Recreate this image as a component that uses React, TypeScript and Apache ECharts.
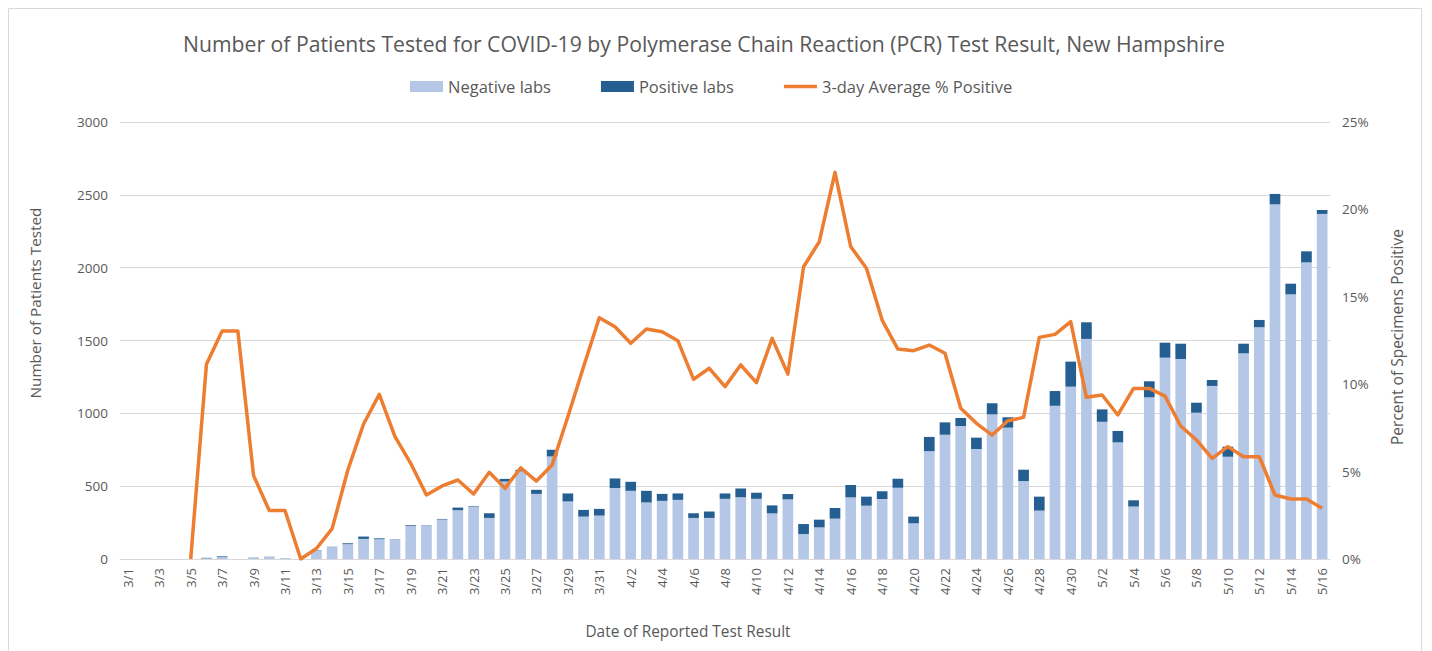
import React, { useEffect, useRef } from "react";
import * as echarts from "echarts";

const dates = [
  "3/1","3/2","3/3","3/4","3/5","3/6","3/7","3/8","3/9","3/10","3/11","3/12","3/13","3/14","3/15","3/16",
  "3/17","3/18","3/19","3/20","3/21","3/22","3/23","3/24","3/25","3/26","3/27","3/28","3/29","3/30","3/31",
  "4/1","4/2","4/3","4/4","4/5","4/6","4/7","4/8","4/9","4/10","4/11","4/12","4/13","4/14","4/15","4/16",
  "4/17","4/18","4/19","4/20","4/21","4/22","4/23","4/24","4/25","4/26","4/27","4/28","4/29","4/30",
  "5/1","5/2","5/3","5/4","5/5","5/6","5/7","5/8","5/9","5/10","5/11","5/12","5/13","5/14","5/15","5/16",
];

const negativeLabs = [
  0, 0, 0, 0, 0, 5, 13, 0, 10, 15, 7, 0, 60, 84, 102, 138,
  136, 133, 227, 230, 271, 335, 358, 282, 532, 602, 447, 704, 395, 291, 298,
  487, 468, 388, 399, 406, 282, 282, 413, 424, 413, 313, 409, 171, 217, 277, 423,
  366, 412, 489, 245, 740, 853, 913, 755, 993, 902, 535, 332, 1052, 1183,
  1511, 942, 801, 360, 1110, 1382, 1373, 1004, 1188, 702, 1412, 1591, 2435, 1817, 2036, 2369,
];

const positiveLabs = [
  0, 0, 0, 0, 0, 3, 5, 0, 1, 1, 0, 0, 2, 1, 6, 16,
  6, 2, 5, 2, 4, 18, 4, 32, 18, 10, 28, 46, 55, 46, 46,
  66, 62, 80, 48, 44, 32, 44, 37, 60, 42, 55, 37, 69, 53, 73, 85,
  62, 53, 62, 46, 98, 85, 55, 78, 76, 71, 78, 96, 101, 172,
  114, 85, 78, 43, 110, 103, 105, 69, 41, 69, 66, 50, 71, 73, 76, 27,
];

const avgPctPositive = [
  null, null, null, null, 0, 11.14, 13.04, 13.04, 4.77, 2.77, 2.77, 0, 0.6, 1.74, 5.09, 7.72,
  9.42, 7.0, 5.47, 3.66, 4.18, 4.52, 3.72, 4.96, 4.04, 5.22, 4.46, 5.38, 8.14, 11.0, 13.8,
  13.29, 12.34, 13.16, 13.0, 12.49, 10.28, 10.91, 9.86, 11.1, 10.09, 12.62, 10.58, 16.72, 18.15, 22.12, 17.87,
  16.63, 13.67, 12.01, 11.92, 12.24, 11.77, 8.62, 7.76, 7.09, 7.91, 8.1, 12.68, 12.85, 13.58,
  9.25, 9.38, 8.24, 9.76, 9.76, 9.32, 7.61, 6.81, 5.76, 6.43, 5.85, 5.85, 3.66, 3.43, 3.43, 2.9,
];

const FONT = "'Open Sans', 'Noto Sans', sans-serif";
const TEXT = "#595959";

export default function App() {
  const ref = useRef<HTMLDivElement>(null);
  useEffect(() => {
    if (!ref.current) return;
    const chart = echarts.init(ref.current, null, { renderer: "svg" });
    chart.setOption({
      animation: false,
      backgroundColor: "#ffffff",
      textStyle: { fontFamily: FONT },
      title: {
        text: "Number of Patients Tested for COVID-19 by Polymerase Chain Reaction (PCR) Test Result, New Hampshire",
        left: 178,
        top: 28,
        textStyle: { fontSize: 21.2, fontWeight: "normal", color: TEXT, fontFamily: FONT },
      },
      legend: {
        left: 405,
        top: 73,
        itemWidth: 33,
        itemHeight: 11,
        itemGap: 50,
        textStyle: { fontSize: 16.5, color: TEXT, fontFamily: FONT },
        data: [
          { name: "Negative labs", icon: "rect" },
          { name: "Positive labs", icon: "rect" },
          { name: "3-day Average % Positive", icon: "path://M0,0 L33,0 L33,3.5 L0,3.5 Z" },
        ],
      },
      grid: { left: 120, right: 102, top: 122, bottom: 92, containLabel: false },
      xAxis: {
        type: "category",
        data: dates,
        axisLine: { lineStyle: { color: "#D9D9D9" } },
        axisTick: { show: false },
        axisLabel: { interval: 1, rotate: 90, color: TEXT, fontSize: 13, margin: 9, fontFamily: FONT },
      },
      yAxis: [
        {
          type: "value",
          min: 0,
          max: 3000,
          interval: 500,
          axisLine: { show: false },
          axisTick: { show: false },
          splitLine: { lineStyle: { color: "#D9D9D9" } },
          axisLabel: {
            color: TEXT,
            fontSize: 13.5,
            margin: 12,
            fontFamily: FONT,
            formatter: (v: number) => String(v),
          },
        },
        {
          type: "value",
          min: 0,
          max: 25,
          interval: 5,
          axisLine: { show: false },
          axisTick: { show: false },
          splitLine: { show: false },
          axisLabel: { color: TEXT, fontSize: 13.5, margin: 12, formatter: "{value}%", fontFamily: FONT },
        },
      ],
      series: [
        {
          name: "Negative labs",
          type: "bar",
          stack: "labs",
          barCategoryGap: "32%",
          itemStyle: { color: "#B4C7E7" },
          data: negativeLabs,
        },
        {
          name: "Positive labs",
          type: "bar",
          stack: "labs",
          barCategoryGap: "32%",
          itemStyle: { color: "#255E91" },
          data: positiveLabs,
        },
        {
          name: "3-day Average % Positive",
          type: "line",
          yAxisIndex: 1,
          symbol: "none",
          connectNulls: false,
          z: 5,
          lineStyle: { color: "#ED7D31", width: 3.5, join: "round" },
          itemStyle: { color: "#ED7D31" },
          data: avgPctPositive,
        },
      ],
      graphic: [
        {
          type: "rect",
          shape: { x: 8.5, y: 8.5, width: 1413, height: 700 },
          style: { fill: "none", stroke: "#D9D9D9", lineWidth: 1 },
          silent: true,
        },
        {
          type: "text",
          x: 35,
          y: 303,
          rotation: Math.PI / 2,
          style: {
            text: "Number of Patients Tested",
            fill: TEXT,
            fontSize: 15.3,
            fontFamily: FONT,
            align: "center",
            verticalAlign: "middle",
          },
        },
        {
          type: "text",
          x: 1397,
          y: 337,
          rotation: Math.PI / 2,
          style: {
            text: "Percent of Specimens Positive",
            fill: TEXT,
            fontSize: 15.5,
            fontFamily: FONT,
            align: "center",
            verticalAlign: "middle",
          },
        },
        {
          type: "text",
          x: 688,
          y: 631,
          style: {
            text: "Date of Reported Test Result",
            fill: TEXT,
            fontSize: 15.4,
            fontFamily: FONT,
            align: "center",
            verticalAlign: "middle",
          },
        },
      ],
    });
    return () => chart.dispose();
  }, []);
  return (
    <div
      ref={ref}
      style={{ position: "absolute", left: 0, top: 0, width: 1432, height: 651, background: "#fff" }}
    />
  );
}
